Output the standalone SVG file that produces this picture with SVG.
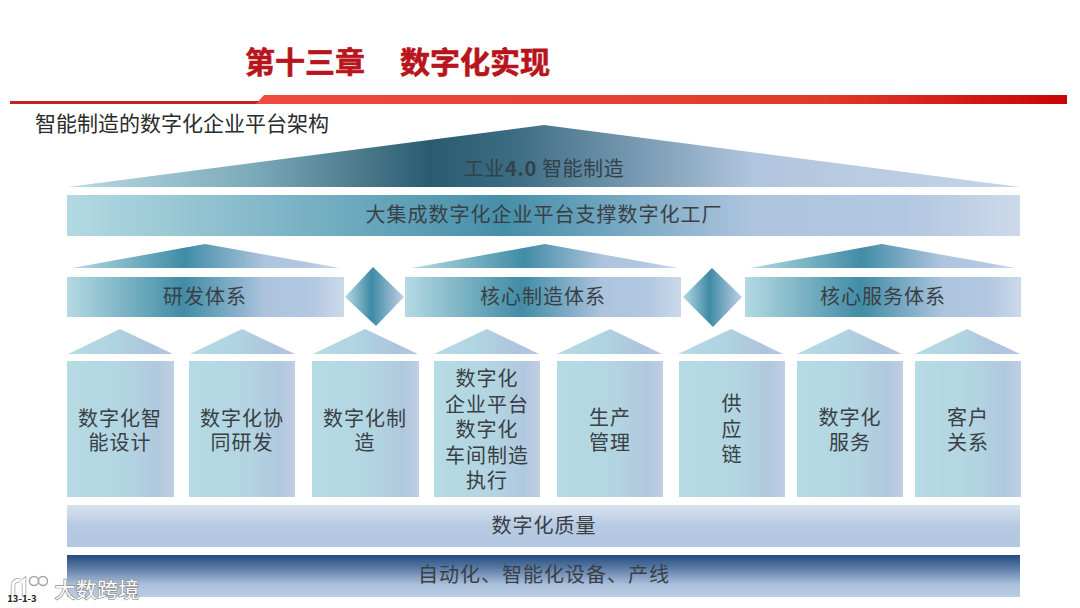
<svg xmlns="http://www.w3.org/2000/svg" width="1080" height="608" viewBox="0 0 1080 608">
<style>
text{font-family:"Noto Sans CJK SC","Noto Sans",sans-serif;fill:#3a3f44;font-size:20px;letter-spacing:1px;text-anchor:middle}
.title{font-size:30px;font-weight:700;fill:#b8141c;letter-spacing:0;stroke:#b8141c;stroke-width:.6px}
.sub{font-size:21px;fill:#2b2b2b;text-anchor:start;letter-spacing:0}
.r{fill:url(#gR)}.b{fill:url(#gB)}.m{fill:url(#gM)}.s{fill:url(#gS)}.c{fill:url(#gC)}.d{fill:url(#gD)}
</style>
<defs>
<linearGradient id="gR"><stop offset="0" stop-color="#b9dbe4"/><stop offset=".2" stop-color="#7ba8b8"/><stop offset=".38" stop-color="#2b5b6f"/><stop offset=".47" stop-color="#3d6d83"/><stop offset=".72" stop-color="#b0c5de"/><stop offset="1" stop-color="#c6d5e8"/></linearGradient>
<linearGradient id="gB"><stop offset="0" stop-color="#b4dae3"/><stop offset=".46" stop-color="#468fa9"/><stop offset=".72" stop-color="#aec4de"/><stop offset=".88" stop-color="#b2c7e1"/><stop offset="1" stop-color="#ccd9ea"/></linearGradient>
<linearGradient id="gM"><stop offset="0" stop-color="#b4dae3"/><stop offset=".42" stop-color="#418ca6"/><stop offset=".72" stop-color="#aec4de"/><stop offset=".88" stop-color="#b2c7e1"/><stop offset="1" stop-color="#ccd9ea"/></linearGradient>
<linearGradient id="gS"><stop offset="0" stop-color="#b5dbe5"/><stop offset=".45" stop-color="#b0d3e1"/><stop offset=".8" stop-color="#aec4de"/><stop offset="1" stop-color="#b4c6e0"/></linearGradient>
<linearGradient id="gC"><stop offset="0" stop-color="#b5dbe4"/><stop offset=".55" stop-color="#b3d5e2"/><stop offset=".85" stop-color="#b0c8de"/><stop offset="1" stop-color="#c0cfe4"/></linearGradient>
<linearGradient id="gD"><stop offset="0" stop-color="#b4dae3"/><stop offset=".45" stop-color="#3f8aa5"/><stop offset="1" stop-color="#c0d0e6"/></linearGradient>
<linearGradient id="gQ" x2="0" y2="1"><stop offset="0" stop-color="#d9e3f0"/><stop offset=".5" stop-color="#b6cae3"/><stop offset="1" stop-color="#b3c8e0"/></linearGradient>
<linearGradient id="gA" x2="0" y2="1"><stop offset="0" stop-color="#254b7d"/><stop offset=".25" stop-color="#4f719d"/><stop offset=".7" stop-color="#aac0dc"/><stop offset="1" stop-color="#bacde5"/></linearGradient>
<linearGradient id="gL"><stop offset="0" stop-color="#ee4a3e"/><stop offset=".7" stop-color="#e03a2a"/><stop offset="1" stop-color="#c90404"/></linearGradient>
</defs>
<rect width="1080" height="608" fill="#fff"/>
<g id="header">
<text class="title" x="305" y="73">第十三章</text>
<text class="title" x="475" y="73">数字化实现</text>
<rect x="10" y="101" width="250" height="3" fill="#c9221c"/>
<path d="M256 104 L264 95 H1067 V104 Z" fill="url(#gL)"/>
<text class="sub" x="35" y="131">智能制造的数字化企业平台架构</text>
</g>
<g id="roof"><polygon class="r" points="68,187 544,125 1020,187"/><text x="544" y="176" style="fill:#33414a;letter-spacing:.6px">工业<tspan font-weight="700">4.0</tspan> 智能制造</text></g>
<g id="platform"><rect class="b" x="67" y="195" width="953" height="41"/><text x="544" y="222">大集成数字化企业平台支撑数字化工厂</text></g>
<g id="rd"><polygon class="m" points="72,268 205,244 340,268"/><rect class="m" x="67" y="277" width="277" height="40"/><text x="205" y="304">研发体系</text></g>
<g id="manufacturing"><polygon class="m" points="412,268 545,244 678,268"/><rect class="m" x="405" y="277" width="276" height="40"/><text x="543" y="304">核心制造体系</text></g>
<g id="service"><polygon class="m" points="750,268 882,244 1016,268"/><rect class="m" x="745" y="277" width="276" height="40"/><text x="883" y="304">核心服务体系</text></g>
<g id="diamond1"><polygon class="d" points="345,297 373,267 404,297 376,326"/></g>
<g id="diamond2"><polygon class="d" points="683,297 712,268 742,297 713,327"/></g>
<g id="col1"><polygon class="s" points="68,354 120,329 173,354"/><rect class="c" x="67" y="361" width="107" height="136"/><text x="120" y="426">数字化智</text><text x="120" y="450">能设计</text></g>
<g id="col2"><polygon class="s" points="190,354 242,329 295,354"/><rect class="c" x="189" y="361" width="106" height="136"/><text x="242" y="426">数字化协</text><text x="242" y="450">同研发</text></g>
<g id="col3"><polygon class="s" points="313,354 365,329 418,354"/><rect class="c" x="312" y="361" width="107" height="136"/><text x="365" y="426">数字化制</text><text x="365" y="450">造</text></g>
<g id="col4"><polygon class="s" points="434,354 487,329 539,354"/><rect class="c" x="434" y="361" width="106" height="136"/><text x="487" y="386">数字化</text><text x="487" y="412">企业平台</text><text x="487" y="437">数字化</text><text x="487" y="463">车间制造</text><text x="487" y="488">执行</text></g>
<g id="col5"><polygon class="s" points="557,354 610,329 662,354"/><rect class="c" x="557" y="361" width="106" height="136"/><text x="610" y="425">生产</text><text x="610" y="450">管理</text></g>
<g id="col6"><polygon class="s" points="678,354 731,329 783,354"/><rect class="c" x="679" y="361" width="106" height="136"/><text x="732" y="411">供</text><text x="732" y="437">应</text><text x="732" y="462">链</text></g>
<g id="col7"><polygon class="s" points="797,354 849,329 902,354"/><rect class="c" x="797" y="361" width="106" height="136"/><text x="850" y="425">数字化</text><text x="850" y="450">服务</text></g>
<g id="col8"><polygon class="s" points="915,354 967,329 1020,354"/><rect class="c" x="915" y="361" width="106" height="136"/><text x="968" y="425">客户</text><text x="968" y="450">关系</text></g>
<g id="quality"><rect x="67" y="505" width="953" height="42" fill="url(#gQ)"/><text x="544" y="533">数字化质量</text></g>
<g id="automation"><rect x="67" y="555" width="953" height="42" fill="url(#gA)"/><text x="544" y="582">自动化、智能化设备、产线</text></g>
<g id="footer">
<path d="M13 597 V586 Q13 580 20 580 M24 597 V580 L21 582" fill="none" stroke="#a0a0a0" stroke-width="4.5"/>
<path d="M13 597 V586 Q13 580 20 580 M24 597 V580 L21 582" fill="none" stroke="#fff" stroke-width="3"/>
<circle cx="34" cy="581" r="4.5" fill="#fff" stroke="#a5a5a5" stroke-width="1.5"/>
<circle cx="43" cy="581" r="4.5" fill="#fff" stroke="#a5a5a5" stroke-width="1.5"/>
<text x="97" y="597" style="fill:#fff;stroke:#8e8e8e;stroke-width:1.4px;paint-order:stroke;font-size:21px;letter-spacing:.3px">大数跨境</text>
<text x="22" y="602" style="font-size:9.5px;font-weight:700;fill:#222;letter-spacing:0">13-1-3</text>
</g>
</svg>
